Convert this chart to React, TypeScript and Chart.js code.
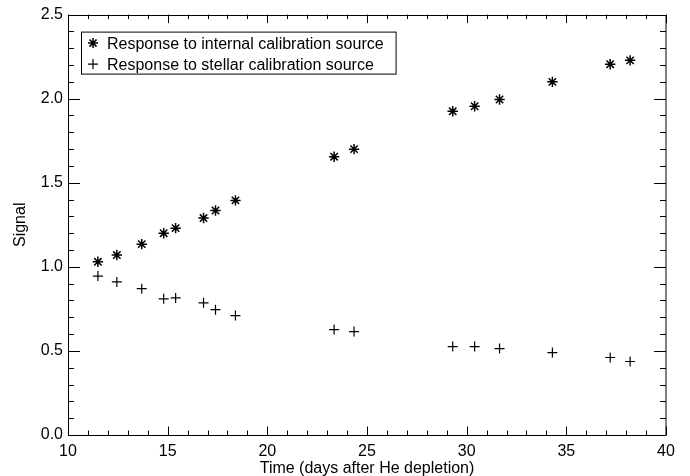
import React, { useEffect, useRef } from "react";
import { Chart, registerables } from "chart.js";

Chart.register(...registerables);

const FONT = "'Liberation Sans', Arial, Helvetica, sans-serif";

// Data
const days = [11.5, 12.45, 13.7, 14.8, 15.4, 16.8, 17.4, 18.4, 23.35, 24.35, 29.3, 30.4, 31.65, 34.3, 37.2, 38.2];
const internalSignal = [1.03, 1.07, 1.135, 1.2, 1.23, 1.29, 1.335, 1.395, 1.655, 1.7, 1.925, 1.955, 1.995, 2.1, 2.205, 2.228];
const stellarSignal = [0.945, 0.91, 0.87, 0.81, 0.815, 0.786, 0.745, 0.71, 0.627, 0.615, 0.526, 0.526, 0.514, 0.49, 0.461, 0.437];
const legendLabels = ["Response to internal calibration source", "Response to stellar calibration source"];
const xTitle = "Time (days after He depletion)";
const yTitle = "Signal";

const xMin = 10;
const xMax = 40;
const xMajorStep = 5;
const xMinorStep = 1;
const yMin = 0;
const yMax = 2.5;
const yMajorStep = 0.5;
const yMinorStep = 0.1;

function drawStar(ctx: CanvasRenderingContext2D, x: number, y: number, r: number) {
  ctx.beginPath();
  ctx.moveTo(x - r, y);
  ctx.lineTo(x + r, y);
  ctx.moveTo(x, y - r);
  ctx.lineTo(x, y + r);
  const d = r * Math.SQRT1_2;
  ctx.moveTo(x - d, y - d);
  ctx.lineTo(x + d, y + d);
  ctx.moveTo(x - d, y + d);
  ctx.lineTo(x + d, y - d);
  ctx.stroke();
}

function drawPlus(ctx: CanvasRenderingContext2D, x: number, y: number, r: number) {
  ctx.beginPath();
  ctx.moveTo(x - r, y);
  ctx.lineTo(x + r, y);
  ctx.moveTo(x, y - r);
  ctx.lineTo(x, y + r);
  ctx.stroke();
}

const frameTicksPlugin = {
  id: "frameTicks",
  afterDraw(chart: any) {
    const { ctx, chartArea: a, scales } = chart;
    const xs = scales.x;
    const ys = scales.y;
    ctx.save();
    ctx.strokeStyle = "#000";
    ctx.lineWidth = 1;
    ctx.strokeRect(Math.round(a.left) + 0.5, Math.round(a.top) + 0.5, Math.round(a.right - a.left) - 0.5, Math.round(a.bottom - a.top));
    ctx.beginPath();
    const nx = Math.round((xMax - xMin) / xMinorStep);
    for (let i = 0; i <= nx; i++) {
      const v = xMin + i * xMinorStep;
      const major = i % Math.round(xMajorStep / xMinorStep) === 0;
      const len = major ? 8.5 : 4.5;
      const px = Math.round(xs.getPixelForValue(v)) + 0.5;
      ctx.moveTo(px, a.bottom);
      ctx.lineTo(px, a.bottom - len);
      ctx.moveTo(px, a.top);
      ctx.lineTo(px, a.top + len);
    }
    const ny = Math.round((yMax - yMin) / yMinorStep);
    for (let i = 0; i <= ny; i++) {
      const v = yMin + i * yMinorStep;
      const major = i % Math.round(yMajorStep / yMinorStep) === 0;
      const len = major ? 12 : 6;
      const py = Math.round(ys.getPixelForValue(v)) + 0.5;
      ctx.moveTo(a.left, py);
      ctx.lineTo(a.left + len, py);
      ctx.moveTo(a.right, py);
      ctx.lineTo(a.right - len, py);
    }
    ctx.stroke();

    // legend
    ctx.font = `16px ${FONT}`;
    const widths = legendLabels.map((t) => ctx.measureText(t).width);
    const maxW = Math.max(...widths);
    const boxL = a.left + 13;
    const boxT = a.top + 17;
    const lineH = 21;
    const textX = boxL + 26;
    const boxW = textX - boxL + maxW + 12;
    const boxH = 42;
    ctx.fillStyle = "#fff";
    ctx.fillRect(boxL, boxT, boxW, boxH);
    ctx.strokeRect(boxL + 0.5, boxT + 0.5, boxW, boxH);
    ctx.fillStyle = "#000";
    ctx.textBaseline = "middle";
    ctx.textAlign = "left";
    legendLabels.forEach((t, i) => {
      const cy = boxT + 11.5 + i * lineH;
      ctx.lineWidth = i === 0 ? 1.5 : 1.2;
      if (i === 0) drawStar(ctx, boxL + 12, cy, 5);
      else drawPlus(ctx, boxL + 12, cy, 5);
      ctx.fillText(t, textX, cy + 1);
    });
    ctx.restore();
  },
};

export default function App() {
  const ref = useRef<HTMLCanvasElement | null>(null);
  useEffect(() => {
    document.body.style.margin = "0";
    const canvas = ref.current;
    if (!canvas) return;
    const chart = new Chart(canvas, {
      type: "scatter",
      data: {
        datasets: [
          {
            label: legendLabels[0],
            data: days.map((d, i) => ({ x: d, y: internalSignal[i] })),
            pointStyle: "star",
            pointRadius: 5.2,
            pointBorderWidth: 1.5,
            borderColor: "#000",
            backgroundColor: "#000",
            showLine: false,
          },
          {
            label: legendLabels[1],
            data: days.map((d, i) => ({ x: d, y: stellarSignal[i] })),
            pointStyle: "cross",
            pointRadius: 5,
            pointBorderWidth: 1.2,
            borderColor: "#000",
            backgroundColor: "#000",
            showLine: false,
          },
        ],
      },
      options: {
        responsive: false,
        animation: false,
        devicePixelRatio: 1,
        layout: { padding: { top: 11, right: 24, left: 0, bottom: 0 } },
        plugins: { legend: { display: false }, tooltip: { enabled: false } },
        events: [],
        scales: {
          x: {
            type: "linear",
            min: xMin,
            max: xMax,
            afterFit: (s: any) => {
              s.height = 41;
            },
            ticks: {
              stepSize: xMajorStep,
              maxRotation: 0,
              autoSkip: false,
              padding: 7,
              color: "#000",
              font: { family: FONT, size: 16 },
              callback: (v: any) => String(v),
            },
            grid: { display: false, drawTicks: false },
            border: { display: false },
            title: {
              display: true,
              text: xTitle,
              color: "#000",
              font: { family: FONT, size: 16 },
              padding: { top: 0, bottom: -2 },
            },
          },
          y: {
            type: "linear",
            min: yMin,
            max: yMax,
            afterFit: (s: any) => {
              s.width = 68;
            },
            ticks: {
              stepSize: yMajorStep,
              autoSkip: false,
              padding: 5,
              color: "#000",
              font: { family: FONT, size: 16 },
              callback: (v: any) => Number(v).toFixed(1),
            },
            grid: { display: false, drawTicks: false },
            border: { display: false },
            title: {
              display: true,
              text: yTitle,
              color: "#000",
              font: { family: FONT, size: 16 },
              padding: { top: 10.5, bottom: 0 },
            },
          },
        },
      },
      plugins: [frameTicksPlugin],
    });
    return () => chart.destroy();
  }, []);
  return (
    <div style={{ width: 690, height: 476, background: "#fff" }}>
      <canvas ref={ref} width={690} height={476} style={{ display: "block" }} />
    </div>
  );
}
